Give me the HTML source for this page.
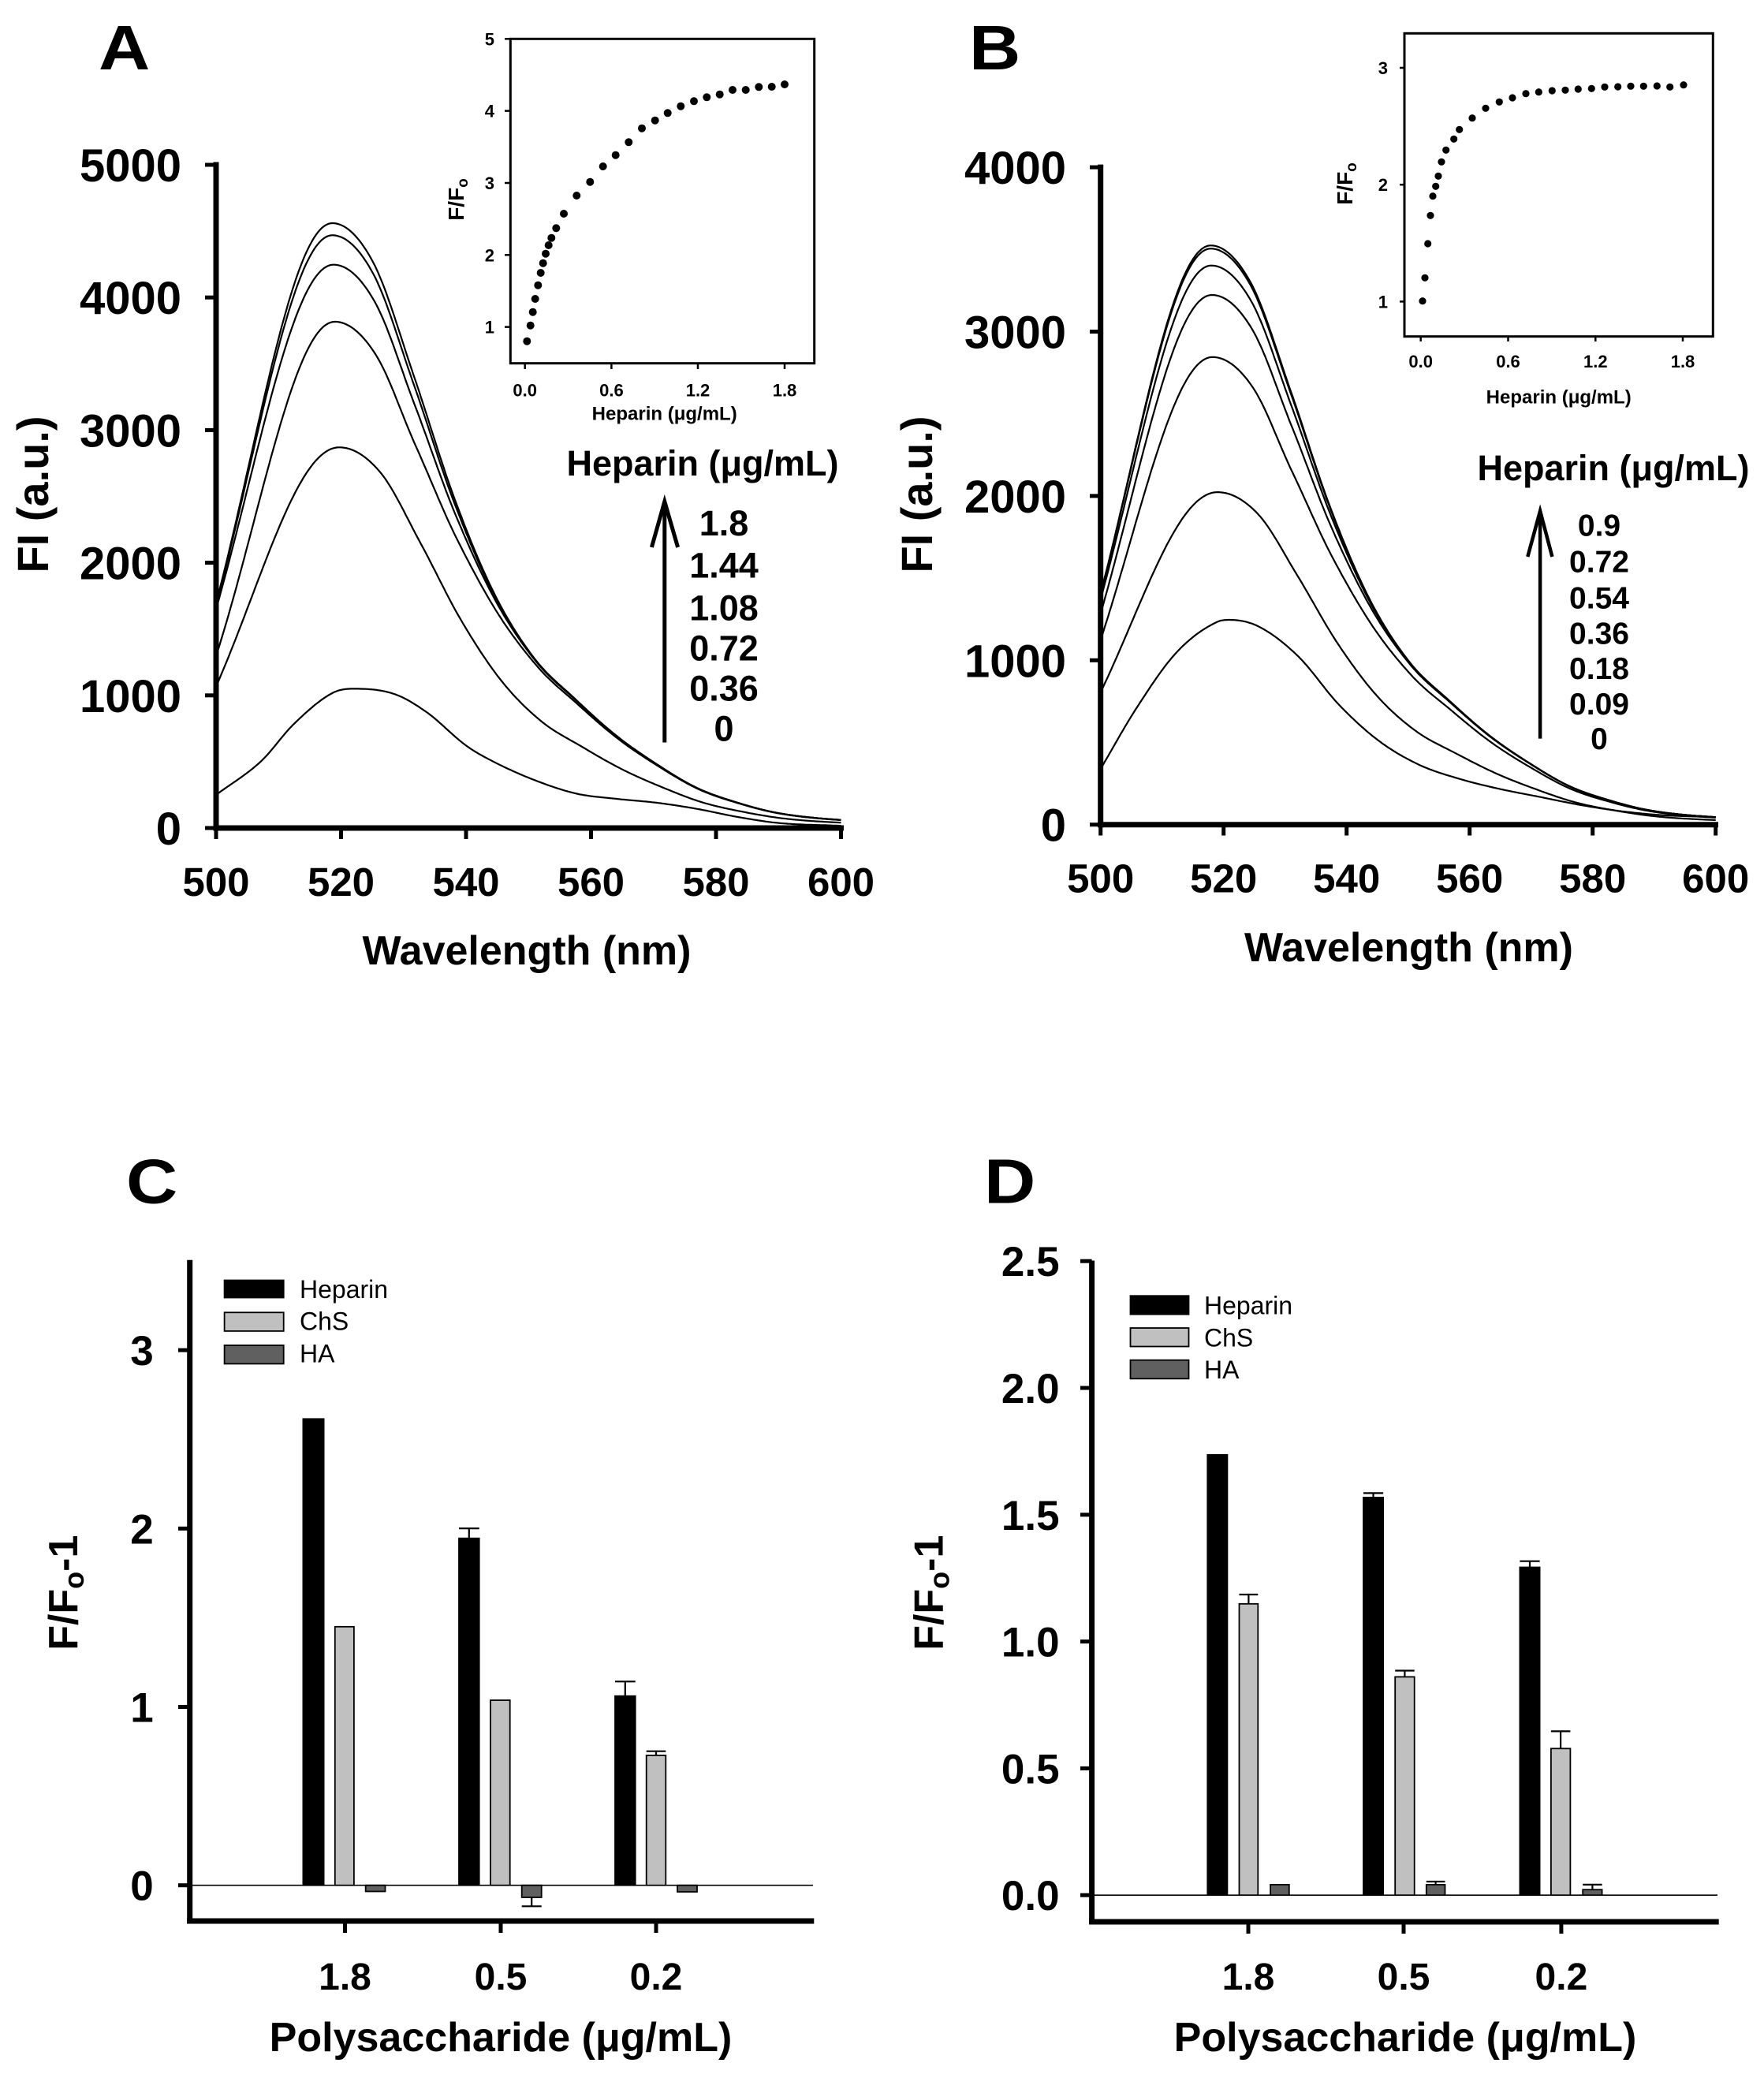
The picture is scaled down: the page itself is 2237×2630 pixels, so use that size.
<!DOCTYPE html>
<html><head><meta charset="utf-8"><style>
html,body{margin:0;padding:0;background:#fff;}
svg{display:block;}
text{font-family:"Liberation Sans",Arial,sans-serif;fill:#000;}
.b{font-weight:bold;}
</style></head><body>
<svg id="s" width="2237" height="2630" viewBox="0 0 2237 2630" xmlns="http://www.w3.org/2000/svg">
<rect width="2237" height="2630" fill="#fff"/>

<!-- ================= PANEL A ================= -->
<text class="b" font-size="80" transform="translate(125,88) scale(1.13,1)">A</text>
<g stroke="#000" fill="none">
  <line x1="274" y1="205.5" x2="274" y2="1053.5" stroke-width="7"/>
  <line x1="270.5" y1="1050" x2="1070" y2="1050" stroke-width="7"/>
  <g stroke-width="5">
    <line x1="260" y1="1050" x2="274" y2="1050"/>
    <line x1="260" y1="881.8" x2="274" y2="881.8"/>
    <line x1="260" y1="713.6" x2="274" y2="713.6"/>
    <line x1="260" y1="545.4" x2="274" y2="545.4"/>
    <line x1="260" y1="377.2" x2="274" y2="377.2"/>
    <line x1="260" y1="209" x2="274" y2="209"/>
    <line x1="274" y1="1050" x2="274" y2="1064"/>
    <line x1="432.5" y1="1050" x2="432.5" y2="1064"/>
    <line x1="591" y1="1050" x2="591" y2="1064"/>
    <line x1="749.5" y1="1050" x2="749.5" y2="1064"/>
    <line x1="908" y1="1050" x2="908" y2="1064"/>
    <line x1="1066.5" y1="1050" x2="1066.5" y2="1064"/>
  </g>
</g>
<g class="b" font-size="58" text-anchor="end">
  <text x="230" y="1071">0</text>
  <text x="230" y="902.8">1000</text>
  <text x="230" y="734.6">2000</text>
  <text x="230" y="566.4">3000</text>
  <text x="230" y="398.2">4000</text>
  <text x="230" y="230">5000</text>
</g>
<g class="b" font-size="51" text-anchor="middle">
  <text x="274" y="1136">500</text>
  <text x="432.5" y="1136">520</text>
  <text x="591" y="1136">540</text>
  <text x="749.5" y="1136">560</text>
  <text x="908" y="1136">580</text>
  <text x="1066.5" y="1136">600</text>
</g>
<text class="b" font-size="52" text-anchor="middle" x="668" y="1223">Wavelength (nm)</text>
<text class="b" font-size="56" text-anchor="middle" transform="translate(61,627) rotate(-90)">FI (a.u.)</text>
<g id="curvesA" fill="none" stroke="#000" stroke-width="2.2" stroke-linejoin="round"></g>

<text class="b" font-size="45" text-anchor="middle" x="891" y="603">Heparin (μg/mL)</text>
<g stroke="#000" stroke-width="5" fill="none">
  <line x1="842.8" y1="941.5" x2="842.8" y2="640"/>
  <polyline points="826.4,694 842.8,636 859.6,694"/>
</g>
<g class="b" font-size="45" text-anchor="middle">
  <text x="918" y="679">1.8</text>
  <text x="918" y="732.7">1.44</text>
  <text x="918" y="786.3">1.08</text>
  <text x="918" y="837.4">0.72</text>
  <text x="918" y="888.4">0.36</text>
  <text x="918" y="939.5">0</text>
</g>

<!-- Inset A -->
<rect x="647.3" y="49.3" width="385.4" height="411.4" fill="none" stroke="#000" stroke-width="3"/>
<g stroke="#000" stroke-width="2.5">
  <line x1="640" y1="49.3" x2="647.3" y2="49.3"/>
  <line x1="640" y1="140.6" x2="647.3" y2="140.6"/>
  <line x1="640" y1="232" x2="647.3" y2="232"/>
  <line x1="640" y1="323.3" x2="647.3" y2="323.3"/>
  <line x1="640" y1="414.6" x2="647.3" y2="414.6"/>
  <line x1="665.7" y1="460.7" x2="665.7" y2="468"/>
  <line x1="775.4" y1="460.7" x2="775.4" y2="468"/>
  <line x1="885" y1="460.7" x2="885" y2="468"/>
  <line x1="995" y1="460.7" x2="995" y2="468"/>
</g>
<g class="b" font-size="22" text-anchor="end">
  <text x="627" y="57.3">5</text>
  <text x="627" y="148.6">4</text>
  <text x="627" y="240">3</text>
  <text x="627" y="331.3">2</text>
  <text x="627" y="422.6">1</text>
</g>
<g class="b" font-size="22" text-anchor="middle">
  <text x="665.7" y="502.7">0.0</text>
  <text x="775.4" y="502.7">0.6</text>
  <text x="885" y="502.7">1.2</text>
  <text x="995" y="502.7">1.8</text>
</g>
<text class="b" font-size="24" text-anchor="middle" x="842.7" y="532.5">Heparin (μg/mL)</text>
<text class="b" font-size="28" text-anchor="middle" transform="translate(588,253) rotate(-90)">F/F<tspan font-size="19" dy="5">o</tspan></text>
<g fill="#000">
<circle cx="668.3" cy="432.7" r="5"/><circle cx="672.7" cy="412.7" r="5"/><circle cx="675.7" cy="395.7" r="5"/>
<circle cx="678.7" cy="379" r="5"/><circle cx="682.3" cy="361.7" r="5"/><circle cx="685.7" cy="346" r="5"/>
<circle cx="688.7" cy="333.7" r="5"/><circle cx="692" cy="321.7" r="5"/><circle cx="695.7" cy="311" r="5"/>
<circle cx="699.3" cy="301.7" r="5"/><circle cx="705.3" cy="289.3" r="5"/><circle cx="715" cy="271" r="5"/>
<circle cx="731.3" cy="248" r="5"/><circle cx="748.3" cy="230.7" r="5"/><circle cx="764.7" cy="211" r="5"/>
<circle cx="780.7" cy="196.7" r="5"/><circle cx="797.3" cy="180.3" r="5"/><circle cx="814" cy="162.7" r="5"/>
<circle cx="830.7" cy="152.7" r="5"/><circle cx="846.7" cy="143.3" r="5"/><circle cx="863.3" cy="134.7" r="5"/>
<circle cx="880" cy="128.3" r="5"/><circle cx="896.3" cy="123.3" r="5"/><circle cx="912.7" cy="119.7" r="5"/>
<circle cx="929" cy="114" r="5"/><circle cx="945.7" cy="114" r="5"/><circle cx="962.3" cy="110.3" r="5"/>
<circle cx="978.7" cy="110" r="5"/><circle cx="995" cy="107" r="5"/>
</g>

<!-- ================= PANEL B ================= -->
<text class="b" font-size="80" transform="translate(1229,88) scale(1.13,1)">B</text>
<g stroke="#000" fill="none">
  <line x1="1395.7" y1="208.6" x2="1395.7" y2="1049.2" stroke-width="7"/>
  <line x1="1392.2" y1="1045.7" x2="2179" y2="1045.7" stroke-width="7"/>
  <g stroke-width="5">
    <line x1="1382" y1="1045.7" x2="1395.7" y2="1045.7"/>
    <line x1="1382" y1="837.3" x2="1395.7" y2="837.3"/>
    <line x1="1382" y1="628.9" x2="1395.7" y2="628.9"/>
    <line x1="1382" y1="420.5" x2="1395.7" y2="420.5"/>
    <line x1="1382" y1="212.1" x2="1395.7" y2="212.1"/>
    <line x1="1395.7" y1="1045.7" x2="1395.7" y2="1059.5"/>
    <line x1="1551.7" y1="1045.7" x2="1551.7" y2="1059.5"/>
    <line x1="1707.7" y1="1045.7" x2="1707.7" y2="1059.5"/>
    <line x1="1863.7" y1="1045.7" x2="1863.7" y2="1059.5"/>
    <line x1="2019.7" y1="1045.7" x2="2019.7" y2="1059.5"/>
    <line x1="2175.7" y1="1045.7" x2="2175.7" y2="1059.5"/>
  </g>
</g>
<g class="b" font-size="58" text-anchor="end">
  <text x="1352" y="1066.7">0</text>
  <text x="1352" y="858.3">1000</text>
  <text x="1352" y="649.9">2000</text>
  <text x="1352" y="441.5">3000</text>
  <text x="1352" y="233.1">4000</text>
</g>
<g class="b" font-size="51" text-anchor="middle">
  <text x="1395.7" y="1131.7">500</text>
  <text x="1551.7" y="1131.7">520</text>
  <text x="1707.7" y="1131.7">540</text>
  <text x="1863.7" y="1131.7">560</text>
  <text x="2019.7" y="1131.7">580</text>
  <text x="2175.7" y="1131.7">600</text>
</g>
<text class="b" font-size="52" text-anchor="middle" x="1786.5" y="1219">Wavelength (nm)</text>
<text class="b" font-size="56" text-anchor="middle" transform="translate(1182,627) rotate(-90)">FI (a.u.)</text>
<g id="curvesB" fill="none" stroke="#000" stroke-width="2.2" stroke-linejoin="round"></g>

<text class="b" font-size="45" text-anchor="middle" x="2046" y="609">Heparin (μg/mL)</text>
<g stroke="#000" stroke-width="4.5" fill="none">
  <line x1="1953.1" y1="936.6" x2="1953.1" y2="652"/>
  <polyline points="1937.3,706 1953.1,648 1968.4,706"/>
</g>
<g class="b" font-size="39" text-anchor="middle">
  <text x="2028" y="679.6">0.9</text>
  <text x="2028" y="725.6">0.72</text>
  <text x="2028" y="771.6">0.54</text>
  <text x="2028" y="816.5">0.36</text>
  <text x="2028" y="860.9">0.18</text>
  <text x="2028" y="905.8">0.09</text>
  <text x="2028" y="950.2">0</text>
</g>

<!-- Inset B -->
<rect x="1781" y="42.3" width="391.3" height="384.4" fill="none" stroke="#000" stroke-width="3"/>
<g stroke="#000" stroke-width="2.5">
  <line x1="1775" y1="86" x2="1781" y2="86"/>
  <line x1="1775" y1="234.2" x2="1781" y2="234.2"/>
  <line x1="1775" y1="382.4" x2="1781" y2="382.4"/>
  <line x1="1801.7" y1="426.7" x2="1801.7" y2="433"/>
  <line x1="1912.5" y1="426.7" x2="1912.5" y2="433"/>
  <line x1="2023.3" y1="426.7" x2="2023.3" y2="433"/>
  <line x1="2134" y1="426.7" x2="2134" y2="433"/>
</g>
<g class="b" font-size="22" text-anchor="end">
  <text x="1760" y="94">3</text>
  <text x="1760" y="242.2">2</text>
  <text x="1760" y="390.4">1</text>
</g>
<g class="b" font-size="22" text-anchor="middle">
  <text x="1801.7" y="466">0.0</text>
  <text x="1912.5" y="466">0.6</text>
  <text x="2023.3" y="466">1.2</text>
  <text x="2134" y="466">1.8</text>
</g>
<text class="b" font-size="24" text-anchor="middle" x="1976.7" y="511.5">Heparin (μg/mL)</text>
<text class="b" font-size="28" text-anchor="middle" transform="translate(1715,233) rotate(-90)">F/F<tspan font-size="19" dy="5">o</tspan></text>
<g fill="#000">
<circle cx="1804" cy="381.7" r="4.6"/><circle cx="1807" cy="352.3" r="4.6"/><circle cx="1810.7" cy="309" r="4.6"/>
<circle cx="1814" cy="273.3" r="4.6"/><circle cx="1817" cy="248.7" r="4.6"/><circle cx="1820.7" cy="236.3" r="4.6"/>
<circle cx="1824" cy="223.3" r="4.6"/><circle cx="1828" cy="205.3" r="4.6"/><circle cx="1833.7" cy="190.3" r="4.6"/>
<circle cx="1843.7" cy="176.3" r="4.6"/><circle cx="1850.7" cy="164.3" r="4.6"/><circle cx="1867" cy="149.7" r="4.6"/>
<circle cx="1884" cy="137.3" r="4.6"/><circle cx="1901.3" cy="129.3" r="4.6"/><circle cx="1918" cy="124" r="4.6"/>
<circle cx="1935" cy="118.7" r="4.6"/><circle cx="1951.3" cy="116.7" r="4.6"/><circle cx="1968.3" cy="115" r="4.6"/>
<circle cx="1985" cy="114.3" r="4.6"/><circle cx="2001.3" cy="113" r="4.6"/><circle cx="2018.3" cy="112.3" r="4.6"/>
<circle cx="2035" cy="110.3" r="4.6"/><circle cx="2051.7" cy="110" r="4.6"/><circle cx="2068" cy="109.3" r="4.6"/>
<circle cx="2084.3" cy="109.3" r="4.6"/><circle cx="2101.3" cy="109" r="4.6"/><circle cx="2117.7" cy="110.3" r="4.6"/>
<circle cx="2135" cy="107.7" r="4.6"/>
</g>

<!-- ================= PANEL C ================= -->
<text class="b" font-size="80" transform="translate(160,1525.5) scale(1.13,1)">C</text>
<g stroke="#000" fill="none">
  <line x1="240.7" y1="1597.7" x2="240.7" y2="2439.5" stroke-width="7"/>
  <line x1="237.2" y1="2436" x2="1032.3" y2="2436" stroke-width="7"/>
  <g stroke-width="5">
    <line x1="226" y1="2390.7" x2="240.7" y2="2390.7"/>
    <line x1="226" y1="2164.5" x2="240.7" y2="2164.5"/>
    <line x1="226" y1="1938.3" x2="240.7" y2="1938.3"/>
    <line x1="226" y1="1712.1" x2="240.7" y2="1712.1"/>
    <line x1="437.5" y1="2436" x2="437.5" y2="2451"/>
    <line x1="635" y1="2436" x2="635" y2="2451"/>
    <line x1="832" y1="2436" x2="832" y2="2451"/>
  </g>
  <line x1="240.7" y1="2390.7" x2="1031" y2="2390.7" stroke-width="1.6"/>
</g>
<g class="b" font-size="53" text-anchor="end">
  <text x="194.7" y="2409.7">0</text>
  <text x="194.7" y="2183.5">1</text>
  <text x="194.7" y="1957.3">2</text>
  <text x="194.7" y="1731.1">3</text>
</g>
<g class="b" font-size="48" text-anchor="middle">
  <text x="437.5" y="2523">1.8</text>
  <text x="635" y="2523">0.5</text>
  <text x="832" y="2523">0.2</text>
</g>
<text class="b" font-size="52" text-anchor="middle" x="635" y="2601">Polysaccharide (μg/mL)</text>
<text class="b" font-size="52" text-anchor="middle" transform="translate(98,2019.7) rotate(-90)">F/F<tspan font-size="36" dy="8">o</tspan><tspan dy="-8">-1</tspan></text>
<g stroke="#000" stroke-width="1.8">
  <rect x="384.4" y="1799.3" width="26.2" height="591.4" fill="#000"/>
  <rect x="424.8" y="2062.8" width="24.1" height="327.9" fill="#c0c0c0"/>
  <rect x="463.7" y="2390.7" width="24.8" height="7.8" fill="#606060"/>
  <rect x="582" y="1950.7" width="25.7" height="440" fill="#000"/>
  <rect x="622" y="2156" width="24.7" height="234.7" fill="#c0c0c0"/>
  <rect x="661.7" y="2390.7" width="25" height="15.3" fill="#606060"/>
  <rect x="780" y="2150.7" width="25.7" height="240" fill="#000"/>
  <rect x="819.7" y="2226" width="24.6" height="164.7" fill="#c0c0c0"/>
  <rect x="859" y="2390.7" width="25" height="8.3" fill="#606060"/>
</g>
<g stroke="#000" stroke-width="2.2" fill="none">
  <line x1="594.8" y1="1950.7" x2="594.8" y2="1938.1"/><line x1="582" y1="1938.1" x2="607.7" y2="1938.1"/>
  <line x1="674.2" y1="2406" x2="674.2" y2="2417.3"/><line x1="661.7" y1="2417.3" x2="686.7" y2="2417.3"/>
  <line x1="792.8" y1="2150.7" x2="792.8" y2="2132.3"/><line x1="780" y1="2132.3" x2="805.7" y2="2132.3"/>
  <line x1="832" y1="2226" x2="832" y2="2220.7"/><line x1="819.7" y1="2220.7" x2="844.3" y2="2220.7"/>
</g>
<g stroke="#000" stroke-width="1.8">
  <rect x="284.6" y="1623.5" width="75.1" height="22" fill="#000"/>
  <rect x="284.6" y="1664.3" width="75.1" height="23.6" fill="#c0c0c0"/>
  <rect x="284.6" y="1705.9" width="75.1" height="23.5" fill="#606060"/>
</g>
<g font-size="32">
  <text x="380" y="1646">Heparin</text>
  <text x="380" y="1686.7">ChS</text>
  <text x="380" y="1727.3">HA</text>
</g>

<!-- ================= PANEL D ================= -->
<text class="b" font-size="80" transform="translate(1248,1525.5) scale(1.13,1)">D</text>
<g stroke="#000" fill="none">
  <line x1="1384.6" y1="1598.5" x2="1384.6" y2="2440.5" stroke-width="7"/>
  <line x1="1381.1" y1="2437" x2="2179.7" y2="2437" stroke-width="7"/>
  <g stroke-width="5">
    <line x1="1370" y1="2403.2" x2="1384.6" y2="2403.2"/>
    <line x1="1370" y1="2242.4" x2="1384.6" y2="2242.4"/>
    <line x1="1370" y1="2081.6" x2="1384.6" y2="2081.6"/>
    <line x1="1370" y1="1920.8" x2="1384.6" y2="1920.8"/>
    <line x1="1370" y1="1760" x2="1384.6" y2="1760"/>
    <line x1="1370" y1="1599.2" x2="1384.6" y2="1599.2"/>
    <line x1="1583" y1="2437" x2="1583" y2="2452"/>
    <line x1="1780" y1="2437" x2="1780" y2="2452"/>
    <line x1="1979.9" y1="2437" x2="1979.9" y2="2452"/>
  </g>
  <line x1="1384.6" y1="2403.2" x2="2178" y2="2403.2" stroke-width="1.6"/>
</g>
<g class="b" font-size="53" text-anchor="end">
  <text x="1343.6" y="2422.2">0.0</text>
  <text x="1343.6" y="2261.4">0.5</text>
  <text x="1343.6" y="2100.6">1.0</text>
  <text x="1343.6" y="1939.8">1.5</text>
  <text x="1343.6" y="1779">2.0</text>
  <text x="1343.6" y="1618.2">2.5</text>
</g>
<g class="b" font-size="48" text-anchor="middle">
  <text x="1583" y="2523">1.8</text>
  <text x="1780" y="2523">0.5</text>
  <text x="1979.9" y="2523">0.2</text>
</g>
<text class="b" font-size="52" text-anchor="middle" x="1782" y="2601">Polysaccharide (μg/mL)</text>
<text class="b" font-size="52" text-anchor="middle" transform="translate(1195.5,2019.7) rotate(-90)">F/F<tspan font-size="36" dy="8">o</tspan><tspan dy="-8">-1</tspan></text>
<g stroke="#000" stroke-width="1.8">
  <rect x="1531.3" y="1844.8" width="25.1" height="558.4" fill="#000"/>
  <rect x="1571.5" y="2033.8" width="23.8" height="369.4" fill="#c0c0c0"/>
  <rect x="1611.1" y="2389.9" width="23.7" height="13.3" fill="#606060"/>
  <rect x="1729" y="1898.9" width="25.1" height="504.3" fill="#000"/>
  <rect x="1769.2" y="2126.4" width="24.5" height="276.8" fill="#c0c0c0"/>
  <rect x="1808.8" y="2389.9" width="23.7" height="13.3" fill="#606060"/>
  <rect x="1927.4" y="1987.5" width="25.2" height="415.7" fill="#000"/>
  <rect x="1966.9" y="2217.3" width="24.5" height="185.9" fill="#c0c0c0"/>
  <rect x="2007.2" y="2396.2" width="24.4" height="7" fill="#606060"/>
</g>
<g stroke="#000" stroke-width="2.2" fill="none">
  <line x1="1583.4" y1="2033.8" x2="1583.4" y2="2022"/><line x1="1571.5" y1="2022" x2="1595.3" y2="2022"/>
  <line x1="1741.5" y1="1898.9" x2="1741.5" y2="1893.4"/><line x1="1729" y1="1893.4" x2="1754.1" y2="1893.4"/>
  <line x1="1781.4" y1="2126.4" x2="1781.4" y2="2118.5"/><line x1="1769.2" y1="2118.5" x2="1793.7" y2="2118.5"/>
  <line x1="1820.6" y1="2389.9" x2="1820.6" y2="2386"/><line x1="1808.8" y1="2386" x2="1832.5" y2="2386"/>
  <line x1="1940" y1="1987.5" x2="1940" y2="1979.7"/><line x1="1927.4" y1="1979.7" x2="1952.6" y2="1979.7"/>
  <line x1="1979.1" y1="2217.3" x2="1979.1" y2="2195.4"/><line x1="1966.9" y1="2195.4" x2="1991.4" y2="2195.4"/>
  <line x1="2019.4" y1="2396.2" x2="2019.4" y2="2389.9"/><line x1="2007.2" y1="2389.9" x2="2031.6" y2="2389.9"/>
</g>
<g stroke="#000" stroke-width="1.8">
  <rect x="1433.5" y="1643.2" width="74" height="23.5" fill="#000"/>
  <rect x="1433.5" y="1684" width="74" height="23.5" fill="#c0c0c0"/>
  <rect x="1433.5" y="1724.7" width="74" height="23.6" fill="#606060"/>
</g>
<g font-size="32">
  <text x="1527" y="1666.5">Heparin</text>
  <text x="1527" y="1707.3">ChS</text>
  <text x="1527" y="1748">HA</text>
</g>
</svg>

<script>
(function(){
function mono(xs,ys){
  var n=xs.length,d=[],m=new Array(n),i;
  for(i=0;i<n-1;i++) d[i]=(ys[i+1]-ys[i])/(xs[i+1]-xs[i]);
  m[0]=d[0]; m[n-1]=d[n-2];
  for(i=1;i<n-1;i++) m[i]=(d[i-1]*d[i]<=0)?0:(d[i-1]+d[i])/2;
  for(i=0;i<n-1;i++){
    if(d[i]===0){m[i]=0;m[i+1]=0;continue;}
    var a=m[i]/d[i],b=m[i+1]/d[i],s=a*a+b*b;
    if(s>9){var t=3/Math.sqrt(s);m[i]=t*a*d[i];m[i+1]=t*b*d[i];}
  }
  return function(x){
    if(x<=xs[0]) return ys[0];
    if(x>=xs[n-1]) return ys[n-1];
    var k=0; while(x>xs[k+1]) k++;
    var h=xs[k+1]-xs[k],t=(x-xs[k])/h,t2=t*t,t3=t2*t;
    return (2*t3-3*t2+1)*ys[k]+(t3-2*t2+t)*h*m[k]+(-2*t3+3*t2)*ys[k+1]+(t3-t2)*h*m[k+1];
  };
}
var R=mono([-6.5,0,6.5,13,19.4,25.9,32.3,38.8,45.3,51.7,58.2,64.8,71.2,82,110],
           [0.936,1,0.936,0.749,0.549,0.388,0.281,0.214,0.154,0.107,0.067,0.042,0.025,0.013,0.006]);
var NS="http://www.w3.org/2000/svg";
function add(g,d){var p=document.createElementNS(NS,"path");p.setAttribute("d",d);g.appendChild(p);}
function spec(c,Ptop,X,Y){
  var sig=(c.mu-500)/Math.sqrt(2*Math.log(c.P/c.s)),d="";
  for(var l=500;l<=600.0001;l+=0.25){
    var v;
    if(l<c.mu){v=c.P*Math.exp(-(l-c.mu)*(l-c.mu)/(2*sig*sig));}
    else{var D=l-c.mu;var t=Math.min(1,Math.max(0,(D-10)/25));t=t*t*(3-2*t);
      var Pe=c.P+(Ptop-c.P)*(c.k||0)*t;v=Pe*R(D);}
    d+=(d?"L":"M")+X(l).toFixed(1)+" "+Y(v).toFixed(1);
  }
  return d;
}
function pts(ls,vs,X,Y){
  var f=mono(ls,vs),d="";
  for(var l=500;l<=600.0001;l+=0.25){d+=(d?"L":"M")+X(l).toFixed(1)+" "+Y(f(l)).toFixed(1);}
  return d;
}
/* Panel A */
var XA=function(l){return 274+(l-500)*7.925;}, YA=function(v){return 1050-v*0.1682;};
var gA=document.getElementById("curvesA");
var cA=[{P:4560,mu:518.6,s:1694},{P:4469,mu:518.6,s:1680,k:0.85},{P:4247,mu:518.8,s:1650,k:0.8},
        {P:3817,mu:519,s:1296,k:0.75},{P:2870,mu:519.7,s:1067,k:0}];
cA.forEach(function(c){add(gA,spec(c,4560,XA,YA));});
add(gA,pts([500,507.3,512.4,518.9,522.1,528.6,533.7,540.2,544.7,551.2,557.7,564.1,570.6,577,583.5,590,600],
           [250,508,782,1024,1050,1009,873,615,493,357,259,220,190,144,83,38,17],XA,YA));
/* Panel B */
var XB=function(l){return 1395.7+(l-500)*7.8;}, YB=function(v){return 1045.7-v*0.2084;};
var gB=document.getElementById("curvesB");
var cB=[{P:3524,mu:517.9,s:1405},{P:3505,mu:517.9,s:1400,k:0.8},{P:3402,mu:518,s:1370,k:0.8},
        {P:3223,mu:518.1,s:1283,k:0.8},{P:2845,mu:518.2,s:1123,k:0.6},{P:2023,mu:519,s:805,k:0}];
cB.forEach(function(c){add(gB,spec(c,3524,XB,YB));});
add(gB,pts([500,505.8,512.4,519,520.9,525.5,532.1,538.7,545.2,551.8,558.4,564.9,571.5,578.1,584.6,591.2,600],
           [339,707,1050,1234,1246,1209,1025,732,511,364,278,217,168,119,82,58,46],XB,YB));
})();
</script>
</body></html>
